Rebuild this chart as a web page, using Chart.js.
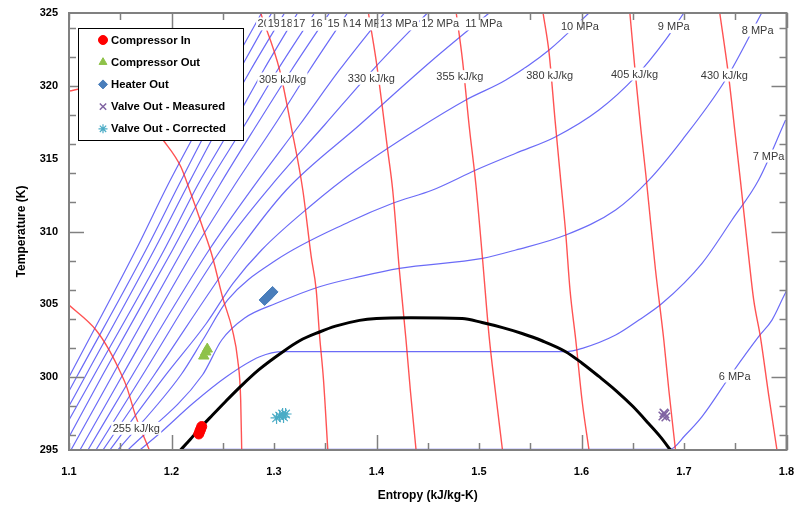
<!DOCTYPE html>
<html>
<head>
<meta charset="utf-8">
<script src="https://cdn.jsdelivr.net/npm/chart.js@4.4.0/dist/chart.umd.min.js"></script>
<style>
  html, body { margin: 0; padding: 0; background: #fff; }
  canvas { display: block; }
</style>
</head>
<body>
<canvas id="chart-ts" width="794" height="506"></canvas>
<script>
// CO2 temperature-entropy diagram: isobars, isenthalps, saturation dome, measured states
// every curve is a list of [entropy kJ/kg-K, temperature K] pairs

// saturation dome
const domeCurve = [[1.2088,295.0],[1.2180,295.7],[1.2266,296.4],[1.2400,297.4],[1.2530,298.35],[1.2665,299.3],[1.2850,300.5],[1.3087,301.75],[1.3250,302.5],[1.3444,303.1],[1.3600,303.5],[1.3834,303.9],[1.4000,304.03],[1.4336,304.08],[1.4836,304.03],[1.5030,303.75],[1.5230,303.4],[1.5420,303.0],[1.5615,302.5],[1.5846,301.75],[1.6006,300.96],[1.6170,300.05],[1.6333,299.1],[1.6500,298.0],[1.6657,296.8],[1.6770,295.9],[1.6868,295.0]];

// isobars (blue)
const isobar20 = [[1.1000,300.01],[1.1652,308.73],[1.1964,313.19],[1.2276,317.31],[1.2568,321.09],[1.2879,325.0]];
const isobar19 = [[1.1000,299.05],[1.1085,300.15],[1.1750,308.73],[1.2071,313.19],[1.2373,317.31],[1.2665,321.09],[1.2977,325.0]];
const isobar18 = [[1.1000,298.02],[1.1166,300.15],[1.1831,308.73],[1.2159,313.19],[1.2470,317.31],[1.2772,321.09],[1.3103,325.0]];
const isobar17 = [[1.1000,297.06],[1.1246,300.15],[1.1928,308.73],[1.2256,313.19],[1.2597,317.31],[1.2899,321.09],[1.3230,325.0]];
const isobar16 = [[1.1000,295.89],[1.1328,300.15],[1.2010,308.73],[1.2353,313.19],[1.2714,317.31],[1.3035,321.09],[1.3395,325.0]];
const isobar15 = [[1.1019,295.0],[1.1426,300.15],[1.2107,308.73],[1.2470,313.19],[1.2831,317.31],[1.3171,321.09],[1.3541,325.0]];
const isobar14 = [[1.1107,295.0],[1.1523,300.15],[1.2220,308.73],[1.2616,313.19],[1.3006,317.31],[1.3347,321.09],[1.3717,325.0]];
const isobar13 = [[1.1185,295.0],[1.1620,300.15],[1.2366,308.73],[1.2811,313.19],[1.3249,317.31],[1.3639,321.09],[1.4077,325.0]];
const isobar12 = [[1.1263,295.0],[1.1718,300.15],[1.2480,308.73],[1.2977,313.19],[1.3493,317.31],[1.3980,321.22],[1.4496,325.0]];
const isobar11 = [[1.1331,295.0],[1.1831,300.15],[1.2658,308.73],[1.3120,312.85],[1.3834,317.31],[1.4547,321.77],[1.5099,325.0]];
const isobar10 = [[1.1399,295.0],[1.1944,300.15],[1.2341,303.70],[1.2600,306.44],[1.2879,308.73],[1.3347,311.70],[1.3801,314.22],[1.4386,316.97],[1.4872,319.03],[1.5262,320.40],[1.5684,322.46],[1.6073,325.0]];
const isobar9 = [[1.1477,295.0],[1.2091,300.15],[1.2305,302.55],[1.2548,305.30],[1.3022,308.04],[1.3736,310.67],[1.4158,311.94],[1.4547,312.85],[1.4970,314.22],[1.5359,315.37],[1.5749,316.51],[1.6170,318.34],[1.6528,320.63],[1.6820,323.15],[1.6998,325.0]];
const isobar8 = [[1.1575,295.0],[1.2302,300.15],[1.2490,302.55],[1.2714,304.06],[1.3022,305.07],[1.3444,306.21],[1.3834,306.90],[1.4223,307.47],[1.5034,308.16],[1.5359,308.73],[1.5846,309.76],[1.6333,311.48],[1.6657,313.53],[1.6982,316.28],[1.7404,320.40],[1.7758,325.0]];
const isobar7 = [[1.1691,295.0],[1.1886,296.15],[1.2210,298.21],[1.2536,300.03],[1.2860,301.40],[1.3087,301.75],[1.5846,301.75],[1.6008,301.98],[1.6333,302.89],[1.6560,303.92],[1.6787,305.07],[1.7176,307.82],[1.7468,310.79],[1.7728,313.53],[1.7991,317.65]];
const isobar6 = [[1.2095,295.05],[1.6862,295.05],[1.7014,296.03],[1.7176,297.29],[1.7468,300.27],[1.7728,302.78],[1.7858,303.92],[1.7988,305.76],[1.8118,307.36]];

// isenthalps (red)
const enth255 = [[1.1000,304.95],[1.1263,303.24],[1.1392,301.86],[1.1506,300.27],[1.1562,299.35],[1.1652,297.29],[1.1711,296.24],[1.1784,295.0]];
const enth280 = [[1.1000,319.64],[1.1156,319.83],[1.1497,319.03],[1.1740,317.86],[1.1918,316.28],[1.2091,314.45],[1.2188,312.62],[1.2302,310.33],[1.2399,308.27],[1.2497,305.52],[1.2594,303.24],[1.2646,301.18],[1.2675,298.43],[1.2685,295.0]];
const enth305 = [[1.2870,325.0],[1.3055,321.09],[1.3168,317.19],[1.3281,312.85],[1.3363,308.27],[1.3412,305.98],[1.3444,302.89],[1.3483,299.81],[1.3525,295.0]];
const enth330 = [[1.3921,325.0],[1.3996,321.77],[1.4048,319.03],[1.4109,315.59],[1.4158,312.85],[1.4223,307.36],[1.4288,302.55],[1.4330,299.12],[1.4386,295.0]];
const enth355 = [[1.4778,325.0],[1.4839,321.77],[1.4905,317.19],[1.4970,313.19],[1.5034,308.16],[1.5099,302.78],[1.5158,299.12],[1.5229,295.0]];
const enth380 = [[1.5625,325.0],[1.5684,322.25],[1.5742,317.65],[1.5797,313.53],[1.5846,309.88],[1.5888,305.98],[1.5944,302.55],[1.6005,298.43],[1.6073,295.0]];
const enth405 = [[1.6472,325.0],[1.6528,320.63],[1.6580,316.97],[1.6628,313.88],[1.6677,310.45],[1.6722,307.36],[1.6803,302.55],[1.6852,299.12],[1.6917,295.0]];
const enth430 = [[1.7349,325.0],[1.7436,320.63],[1.7495,316.97],[1.7550,313.53],[1.7631,308.27],[1.7680,305.30],[1.7745,302.78],[1.7826,298.78],[1.7907,295.0]];

// measured states
const compressorIn = [[1.2266,296.10],[1.2276,296.27],[1.2285,296.44],[1.2295,296.61]];
const compressorOut = [[1.2315,301.45],[1.2334,301.73],[1.2349,301.93]];
const heaterOut = [[1.2908,305.30],[1.2928,305.43],[1.2947,305.57],[1.2967,305.71],[1.2986,305.85]];
const valveMeasured = [[1.6794,297.33],[1.6813,297.47],[1.6823,297.27],[1.6804,297.54]];
const valveCorrected = [[1.3025,297.20],[1.3055,297.33],[1.3084,297.47],[1.3113,297.47],[1.3093,297.27]];

// curve labels, anchored at the left end of the text
const pressureLabelText = ['20 MPa','19 MPa','18 MPa','17 MPa','16 MPa','15 MPa','14 MPa','13 MPa','12 MPa','11 MPa','10 MPa','9 MPa','8 MPa','7 MPa','6 MPa'];
const pressureLabelAt = [[1.2840,324.25],[1.2938,324.25],[1.3064,324.25],[1.3186,324.25],[1.3356,324.25],[1.3522,324.25],[1.3731,324.25],[1.4033,324.25],[1.4437,324.25],[1.4866,324.25],[1.5800,324.06],[1.6745,324.06],[1.7563,323.83],[1.7670,315.18],[1.7339,300.08]];
const enthalpyLabelText = ['255 kJ/kg','305 kJ/kg','330 kJ/kg','355 kJ/kg','380 kJ/kg','405 kJ/kg','430 kJ/kg'];
const enthalpyLabelAt = [[1.1426,296.49],[1.2853,320.47],[1.3720,320.52],[1.4583,320.63],[1.5460,320.74],[1.6287,320.81],[1.7164,320.74]];

const FONT = "'Liberation Sans', Arial, sans-serif";
Chart.defaults.font.family = FONT;

const toXY = pts => pts.map(([s, t]) => ({ x: s, y: t }));

const curve = (pts, color, width, order) => ({
  data: toXY(pts),
  showLine: true,
  borderColor: color,
  backgroundColor: color,
  borderWidth: width,
  pointRadius: 0,
  pointHoverRadius: 0,
  cubicInterpolationMode: 'monotone',
  clip: 0,
  order: order
});

const marker = (label, pts, style, radius, fill, stroke, width) => ({
  label: label,
  data: toXY(pts),
  showLine: false,
  pointStyle: style,
  pointRadius: radius,
  pointHoverRadius: radius,
  backgroundColor: fill,
  borderColor: stroke,
  borderWidth: width,
  order: 0
});

const ISOBAR = 'rgba(70, 70, 245, 0.8)';
const ISENTH = 'rgba(255, 40, 40, 0.8)';

const isobars = [isobar20, isobar19, isobar18, isobar17, isobar16, isobar15, isobar14,
  isobar13, isobar12, isobar11, isobar10, isobar9, isobar8, isobar7, isobar6];
const isenthalps = [enth255, enth280, enth305, enth330, enth355, enth380, enth405, enth430];

// white-boxed text labels on the curves
const curveLabels = {
  id: 'curveLabels',
  afterDatasetsDraw(chart) {
    const { ctx, scales: { x, y } } = chart;
    ctx.save();
    ctx.font = '11px ' + FONT;
    ctx.textBaseline = 'middle';
    ctx.textAlign = 'left';
    const put = (text, at) => {
      const px = x.getPixelForValue(at[0]);
      const py = y.getPixelForValue(at[1]);
      const w = ctx.measureText(text).width;
      ctx.fillStyle = '#fff';
      ctx.fillRect(px - 1.5, py - 6.5, w + 3, 13);
      ctx.fillStyle = '#3a3a3a';
      ctx.fillText(text, px, py + 0.5);
    };
    enthalpyLabelText.forEach((t, i) => put(t, enthalpyLabelAt[i]));
    pressureLabelText.forEach((t, i) => put(t, pressureLabelAt[i]));
    ctx.restore();
  }
};

// plot border with inward tick marks on all four sides
const plotFrame = {
  id: 'plotFrame',
  afterDatasetsDraw(chart) {
    const { ctx, chartArea: a, scales: { x, y } } = chart;
    ctx.save();
    ctx.strokeStyle = '#808080';
    ctx.lineWidth = 1.5;
    const seg = (x1, y1, x2, y2) => {
      ctx.beginPath(); ctx.moveTo(x1, y1); ctx.lineTo(x2, y2); ctx.stroke();
    };
    for (let k = 0; k <= 14; k++) {
      const v = 1.1 + k * 0.05;
      const len = Math.round(v * 100) % 20 === 0 ? 15 : 7;
      const p = Math.round(x.getPixelForValue(v)) + 0.5;
      seg(p, a.bottom, p, a.bottom - len);
      seg(p, a.top, p, a.top + len);
    }
    for (let v = 296; v < 325; v += 2) {
      const len = v % 10 === 0 ? 15 : 7;
      const p = Math.round(y.getPixelForValue(v)) + 0.5;
      seg(a.left, p, a.left + len, p);
      seg(a.right, p, a.right - len, p);
    }
    ctx.lineWidth = 2;
    ctx.strokeRect(a.left, a.top, a.right - a.left, a.bottom - a.top);
    ctx.restore();
  }
};

// legend box inside the plot, drawn from the marker datasets
const boxLegend = {
  id: 'boxLegend',
  afterDraw(chart, args, o) {
    const ctx = chart.ctx;
    ctx.save();
    ctx.fillStyle = '#fff';
    ctx.fillRect(o.left, o.top, o.width, o.height);
    ctx.strokeStyle = '#000';
    ctx.lineWidth = 1;
    ctx.strokeRect(o.left + 0.5, o.top + 0.5, o.width, o.height);
    ctx.textBaseline = 'middle';
    ctx.textAlign = 'left';
    chart.data.datasets.filter(d => d.showLine === false).forEach((d, i) => {
      const yy = o.top + o.firstRow + i * o.rowGap;
      ctx.fillStyle = d.backgroundColor;
      ctx.strokeStyle = d.borderColor;
      ctx.lineWidth = d.borderWidth;
      Chart.helpers.drawPoint(ctx, {
        pointStyle: d.pointStyle, radius: o.markerRadius, rotation: 0, borderWidth: d.borderWidth
      }, o.left + o.markerX, yy);
      ctx.fillStyle = '#000';
      ctx.font = 'bold 11.3px ' + FONT;
      ctx.fillText(d.label, o.left + o.textX, yy + 0.5);
    });
    ctx.restore();
  }
};

const datasets = [
  marker('Compressor In', compressorIn, 'circle', 5, '#ff0000', '#ff0000', 1),
  marker('Compressor Out', compressorOut, 'triangle', 6, '#8fc249', '#8fc249', 1),
  marker('Heater Out', heaterOut, 'rectRot', 5.5, '#4a7ebb', '#4a7ebb', 1),
  marker('Valve Out - Measured', valveMeasured, 'crossRot', 6, '#8064a2', '#8064a2', 1.5),
  marker('Valve Out - Corrected', valveCorrected, 'star', 6, '#4bacc6', '#4bacc6', 1.2),
  curve(domeCurve, '#000000', 3, 1)
];
isenthalps.forEach(c => datasets.push(curve(c, ISENTH, 1.4, 2)));
isobars.forEach(c => datasets.push(curve(c, ISOBAR, 1.2, 3)));

new Chart(document.getElementById('chart-ts').getContext('2d'), {
  type: 'scatter',
  data: { datasets: datasets },
  plugins: [curveLabels, plotFrame, boxLegend],
  options: {
    responsive: false,
    animation: false,
    events: [],
    layout: { padding: { left: 0, top: 13, right: 7, bottom: 0 } },
    plugins: {
      legend: { display: false },
      tooltip: { enabled: false },
      boxLegend: {
        left: 78, top: 28, width: 165, height: 112,
        markerX: 25, textX: 33, firstRow: 12, rowGap: 22.2, markerRadius: 4.5
      }
    },
    scales: {
      x: {
        type: 'linear',
        min: 1.1,
        max: 1.8,
        grid: { display: false, drawTicks: false },
        border: { display: false },
        ticks: {
          stepSize: 0.1,
          autoSkip: false,
          maxRotation: 0,
          padding: 15,
          color: '#000',
          font: { size: 11, weight: 'bold' },
          callback: v => v.toFixed(1)
        },
        title: {
          display: true,
          text: 'Entropy (kJ/kg-K)',
          color: '#000',
          font: { size: 12, weight: 'bold' },
          padding: { top: 0, bottom: 3 }
        },
        afterFit(scale) {
          scale.height = 56;
          scale.paddingLeft = 0;
          scale.paddingRight = 0;
        }
      },
      y: {
        type: 'linear',
        min: 295,
        max: 325,
        grid: { display: false, drawTicks: false },
        border: { display: false },
        ticks: {
          stepSize: 5,
          padding: 11,
          color: '#000',
          font: { size: 11, weight: 'bold' }
        },
        title: {
          display: true,
          text: 'Temperature (K)',
          color: '#000',
          font: { size: 12, weight: 'bold' },
          padding: { top: 14, bottom: 0 }
        },
        afterFit(scale) {
          scale.width = 69;
          scale.paddingTop = 0;
          scale.paddingBottom = 0;
        }
      }
    }
  }
});
</script>
</body>
</html>
